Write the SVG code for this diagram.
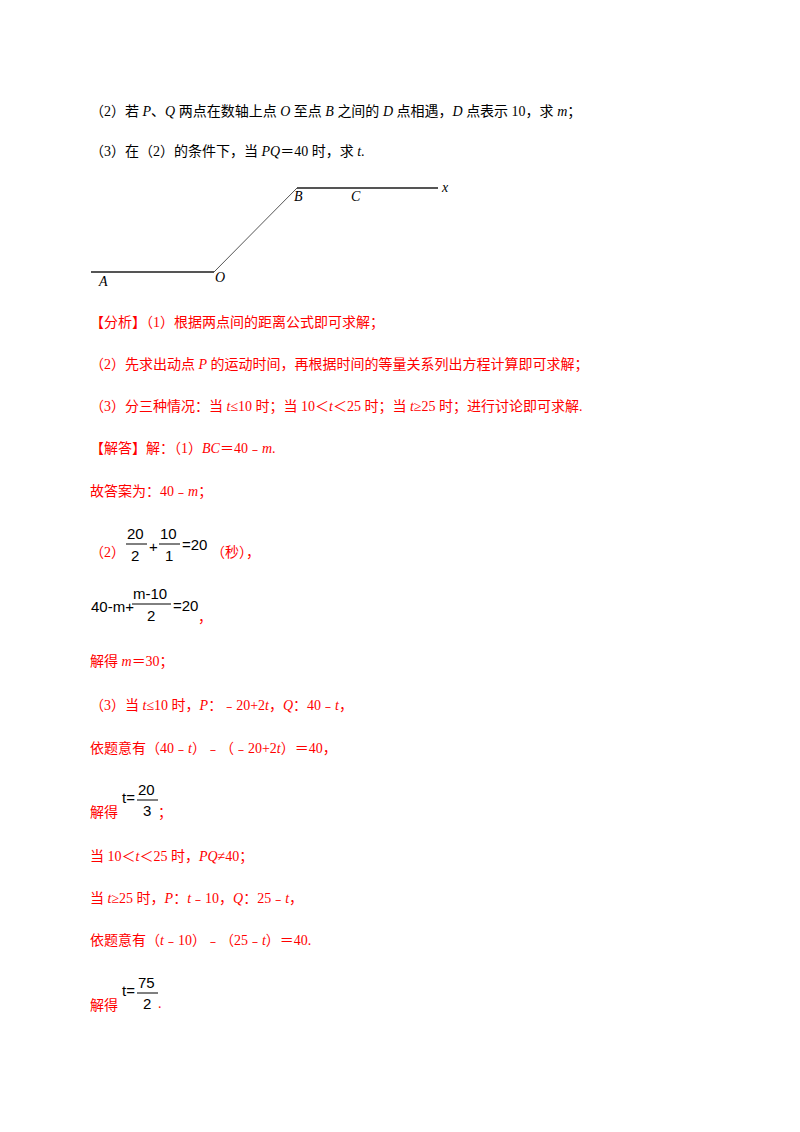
<svg xmlns="http://www.w3.org/2000/svg" width="800" height="1132" viewBox="0 0 800 1132">
<style>
text{font-family:"Liberation Serif","Noto Sans CJK SC",serif;font-size:14px;fill:#000}
.r{fill:#ff0000}
.m{font-family:"Liberation Sans","Noto Sans CJK SC",sans-serif;font-size:15px;fill:#000}
.i{font-style:italic}
.ln{stroke:#555;fill:none}
</style>
<rect width="800" height="1132" fill="#fff"/>
<text x="90" y="116">（2）若 <tspan class="i">P</tspan>、<tspan class="i">Q</tspan> 两点在数轴上点 <tspan class="i">O</tspan> 至点 <tspan class="i">B</tspan> 之间的 <tspan class="i">D</tspan> 点相遇，<tspan class="i">D</tspan> 点表示 10，求 <tspan class="i">m</tspan>；</text>
<text x="90" y="156">（3）在（2）的条件下，当 <tspan class="i">PQ</tspan>＝40 时，求 <tspan class="i">t</tspan>.</text>
<g id="axis">
<line class="ln" x1="91" y1="272" x2="214" y2="272" stroke-width="2"/>
<line class="ln" x1="214" y1="272" x2="297" y2="188" stroke-width="1"/>
<line class="ln" x1="297" y1="188" x2="438" y2="188" stroke-width="2"/>
<text x="99" y="286" class="i" font-size="12">A</text>
<text x="215" y="282" class="i" font-size="12">O</text>
<text x="294" y="201" class="i" font-size="12">B</text>
<text x="351" y="201" class="i" font-size="12">C</text>
<text x="442" y="192" class="i" font-size="12">x</text>
</g>
<text x="90" y="327" class="r">【分析】（1）根据两点间的距离公式即可求解；</text>
<text x="90" y="369" class="r">（2）先求出动点 <tspan class="i">P</tspan> 的运动时间，再根据时间的等量关系列出方程计算即可求解；</text>
<text x="90" y="411" class="r">（3）分三种情况：当 <tspan class="i">t</tspan>≤10 时；当 10＜<tspan class="i">t</tspan>＜25 时；当 <tspan class="i">t</tspan>≥25 时；进行讨论即可求解.</text>
<text x="90" y="453" class="r">【解答】解：（1）<tspan class="i">BC</tspan>＝40﹣<tspan class="i">m</tspan>.</text>
<text x="90" y="496" class="r">故答案为：40﹣<tspan class="i">m</tspan>；</text>
<text x="90" y="557" class="r">（2）</text>
<g id="eq1">
<text class="m" x="127" y="539">20</text>
<line x1="126" y1="544" x2="147" y2="544" stroke="#000"/>
<text class="m" x="131" y="561">2</text>
<text class="m" x="149" y="552">+</text>
<text class="m" x="160" y="539">10</text>
<line x1="159" y1="544" x2="180" y2="544" stroke="#000"/>
<text class="m" x="165" y="561">1</text>
<text class="m" x="182" y="550">=20</text>
</g>
<text x="211" y="557" class="r">（秒），</text>
<g id="eq2">
<text class="m" x="91" y="612">40-m+</text>
<text class="m" x="133" y="599">m-10</text>
<line x1="132" y1="604" x2="171" y2="604" stroke="#000"/>
<text class="m" x="147" y="621">2</text>
<text class="m" x="173" y="611">=20</text>
<text x="198" y="622" class="r">，</text>
</g>
<text x="90" y="666" class="r">解得 <tspan class="i">m</tspan>＝30；</text>
<text x="90" y="710" class="r">（3）当 <tspan class="i">t</tspan>≤10 时，<tspan class="i">P</tspan>：﹣20+2<tspan class="i">t</tspan>，<tspan class="i">Q</tspan>：40﹣<tspan class="i">t</tspan>，</text>
<text x="90" y="753" class="r">依题意有（40﹣<tspan class="i">t</tspan>）﹣（﹣20+2<tspan class="i">t</tspan>）＝40，</text>
<text x="90" y="817" class="r">解得</text>
<g id="eq3">
<text class="m" x="122" y="803">t=</text>
<text class="m" x="138" y="795">20</text>
<line x1="137" y1="800" x2="158" y2="800" stroke="#000"/>
<text class="m" x="143" y="816">3</text>
<text x="158" y="817" class="r">；</text>
</g>
<text x="90" y="861" class="r">当 10＜<tspan class="i">t</tspan>＜25 时，<tspan class="i">PQ</tspan>≠40；</text>
<text x="90" y="903" class="r">当 <tspan class="i">t</tspan>≥25 时，<tspan class="i">P</tspan>：<tspan class="i">t</tspan>﹣10，<tspan class="i">Q</tspan>：25﹣<tspan class="i">t</tspan>，</text>
<text x="90" y="945" class="r">依题意有（<tspan class="i">t</tspan>﹣10）﹣（25﹣<tspan class="i">t</tspan>）＝40.</text>
<text x="90" y="1010" class="r">解得</text>
<g id="eq4">
<text class="m" x="122" y="996">t=</text>
<text class="m" x="138" y="988">75</text>
<line x1="137" y1="993" x2="158" y2="993" stroke="#000"/>
<text class="m" x="143" y="1009">2</text>
<text x="158" y="1008" class="r">.</text>
</g>
</svg>
